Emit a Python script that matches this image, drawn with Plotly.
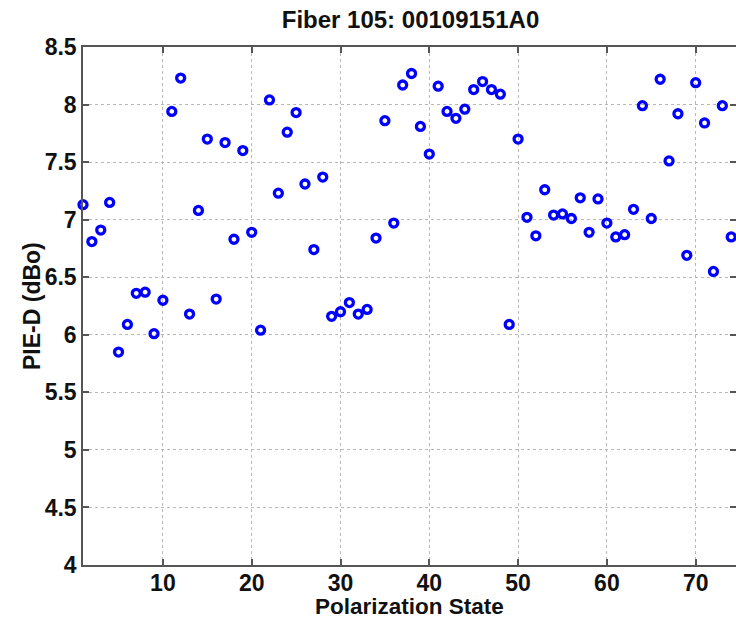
import plotly.graph_objects as go

states = [1, 2, 3, 4, 5, 6, 7, 8, 9, 10, 11, 12, 13, 14, 15, 16, 17, 18, 19, 20,
          21, 22, 23, 24, 25, 26, 27, 28, 29, 30, 31, 32, 33, 34, 35, 36, 37, 38, 39, 40,
          41, 42, 43, 44, 45, 46, 47, 48, 49, 50, 51, 52, 53, 54, 55, 56, 57, 58, 59, 60,
          61, 62, 63, 64, 65, 66, 67, 68, 69, 70, 71, 72, 73, 74, 75]
pie_d = [7.13, 6.81, 6.91, 7.15, 5.85, 6.09, 6.36, 6.37, 6.01, 6.30,
         7.94, 8.23, 6.18, 7.08, 7.70, 6.31, 7.67, 6.83, 7.60, 6.89,
         6.04, 8.04, 7.23, 7.76, 7.93, 7.31, 6.74, 7.37, 6.16, 6.20,
         6.28, 6.18, 6.22, 6.84, 7.86, 6.97, 8.17, 8.27, 7.81, 7.57,
         8.16, 7.94, 7.88, 7.96, 8.13, 8.20, 8.13, 8.09, 6.09, 7.70,
         7.02, 6.86, 7.26, 7.04, 7.05, 7.01, 7.19, 6.89, 7.18, 6.97,
         6.85, 6.87, 7.09, 7.99, 7.01, 8.22, 7.51, 7.92, 6.69, 8.19,
         7.84, 6.55, 7.99, 6.85, 7.40]

x_ticks = [10, 20, 30, 40, 50, 60, 70]
y_ticks = [4, 4.5, 5, 5.5, 6, 6.5, 7, 7.5, 8, 8.5]
y_ticktext = ["4", "4.5", "5", "5.5", "6", "6.5", "7", "7.5", "8", "8.5"]

title_text = "Fiber 105: 00109151A0"
x_title = "Polarization State"
y_title = "PIE-D (dBo)"

W, H = 736, 621
FAM = "Liberation Sans, Arial, sans-serif"
FONT = dict(family=FAM, size=23, color="#111111", weight="bold")
XTFONT = dict(family=FAM, size=22.5, color="#111111", weight="bold")
TFONT = dict(family=FAM, size=24, color="#111111", weight="bold")
AXC = "#555555"
GRIDC = "#b8b8b8"

fig = go.Figure()
fig.add_trace(go.Scatter(
    x=states, y=pie_d, mode="markers",
    marker=dict(symbol="circle-open", size=8, color="#0000ff", line=dict(width=3.3, color="#0000ff")),
    cliponaxis=False, showlegend=False, hoverinfo="skip",
))
# invisible trace to carry the right-hand tick axis
fig.add_trace(go.Scatter(x=[states[0]], y=[pie_d[0]], yaxis="y2", mode="markers",
                         marker=dict(opacity=0), showlegend=False, hoverinfo="skip"))

fig.update_layout(
    width=W, height=H,
    margin=dict(l=83, r=0, t=47, b=56),
    paper_bgcolor="white", plot_bgcolor="white",
    font=FONT,
    title=dict(text=title_text, x=410.5 / W, xref="container", xanchor="center",
               y=1 - 20 / H, yref="container", yanchor="middle", font=TFONT),
    xaxis=dict(
        range=[1, 74.54], tickvals=x_ticks, ticktext=[str(v) for v in x_ticks],
        showline=True, linecolor=AXC, linewidth=1.5, mirror="ticks",
        ticks="inside", ticklen=6, tickwidth=1.5, tickcolor=AXC,
        showgrid=True, gridcolor=GRIDC, griddash="dot", gridwidth=1,
        zeroline=False, tickfont=FONT, automargin=False, ticklabelstandoff=-3,
    ),
    yaxis=dict(
        range=[4, 8.5], tickvals=y_ticks, ticktext=y_ticktext,
        showline=True, linecolor=AXC, linewidth=1.5, mirror=False,
        ticks="inside", ticklen=6, tickwidth=1.5, tickcolor=AXC,
        showgrid=True, gridcolor=GRIDC, griddash="dot", gridwidth=1,
        zeroline=False, tickfont=FONT, automargin=False,
    ),
    yaxis2=dict(
        range=[4, 8.5], tickvals=y_ticks, overlaying="y", side="right",
        showticklabels=False, showline=False, showgrid=False, zeroline=False,
        ticks="inside", ticklen=6, tickwidth=1.5, tickcolor=AXC,
    ),
    annotations=[
        dict(text=x_title, xref="paper", yref="paper", x=(410 - 83) / (W - 83),
             y=-(606 - 565) / (565 - 47), xanchor="center", yanchor="middle",
             showarrow=False, font=XTFONT, borderpad=0),
        dict(text=y_title, xref="paper", yref="paper", x=-(83 - 32) / (W - 83),
             y=0.5, xanchor="center", yanchor="middle", textangle=-90,
             showarrow=False, font=FONT, borderpad=0),
    ],
)

fig.write_html("out.html")
